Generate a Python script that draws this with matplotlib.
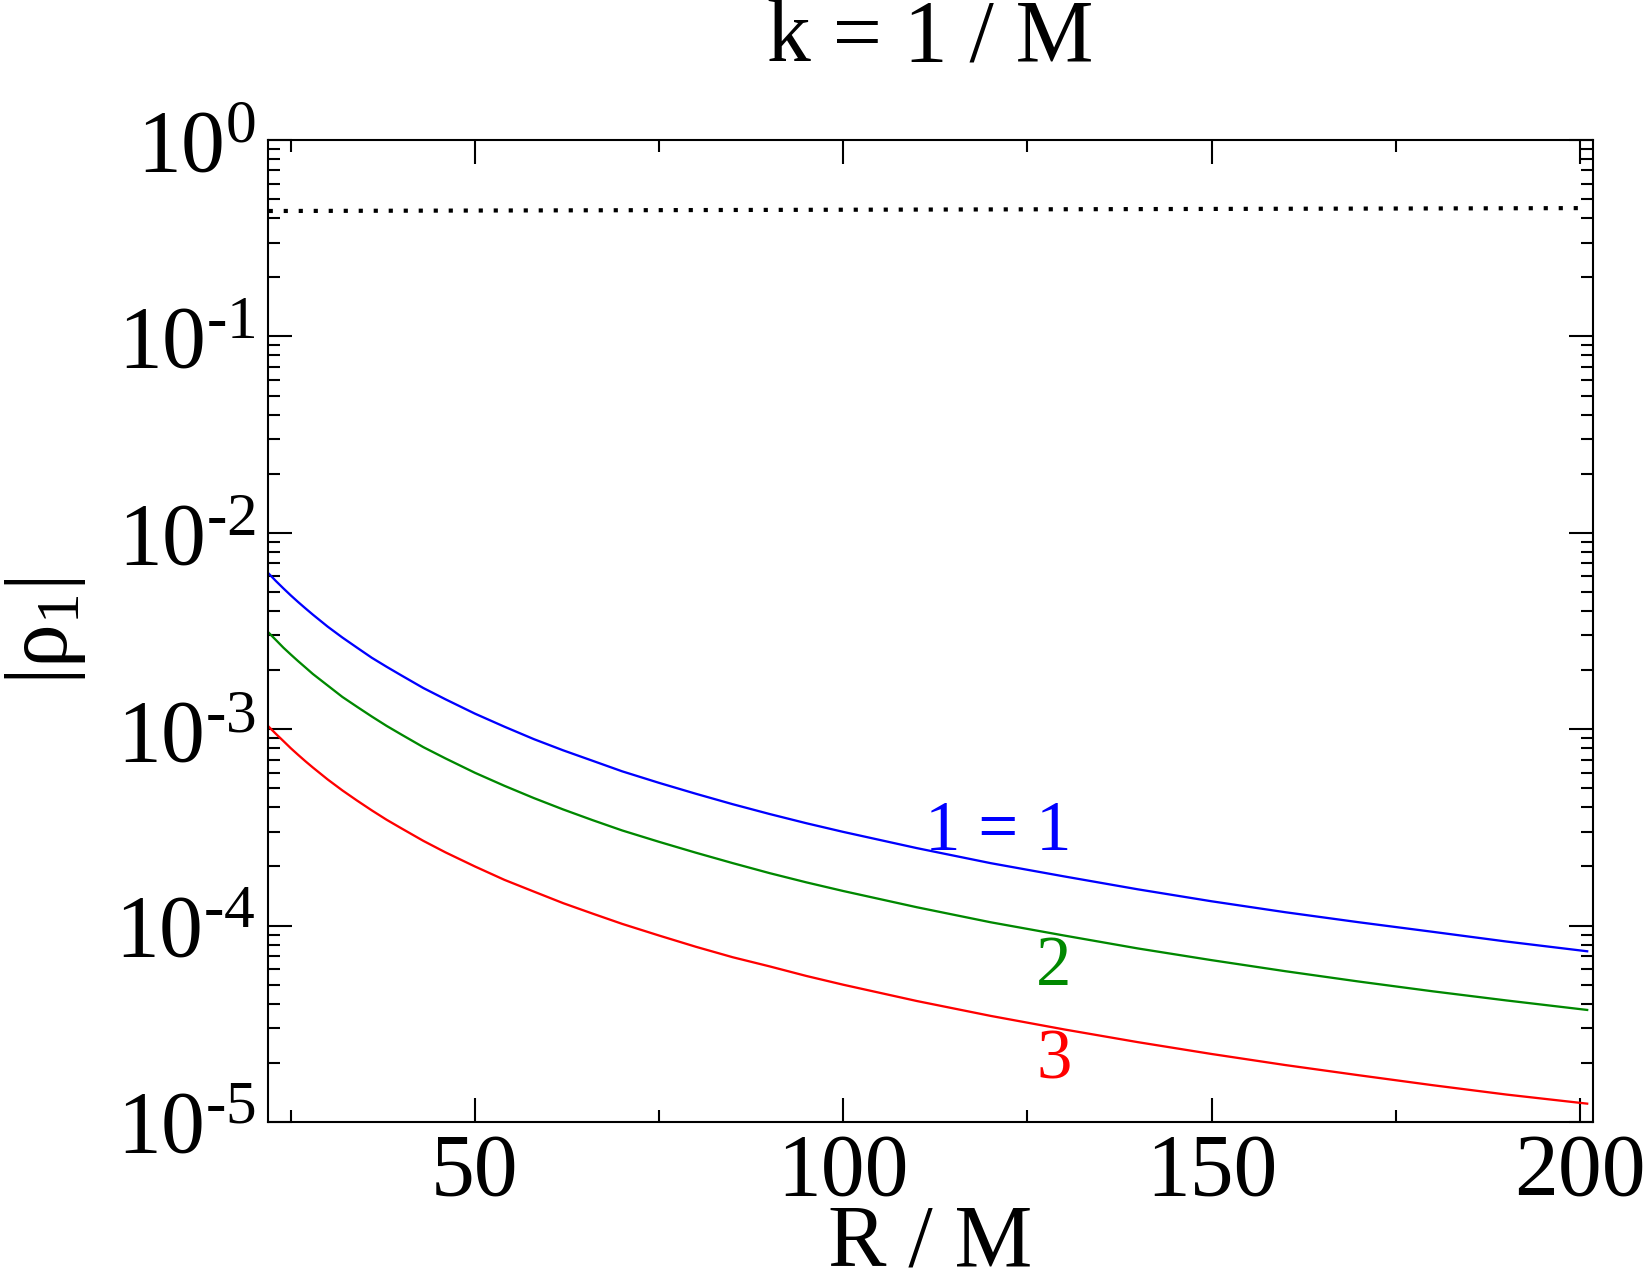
import math
import matplotlib
matplotlib.use("Agg")
import matplotlib.pyplot as plt
from matplotlib.ticker import FixedLocator, FuncFormatter, LogLocator, NullFormatter

plt.rcParams['font.family'] = ['Liberation Serif', 'DejaVu Serif']
plt.rcParams['mathtext.fontset'] = 'custom'
plt.rcParams['mathtext.rm'] = 'Liberation Serif'
plt.rcParams['mathtext.it'] = 'Liberation Serif:italic'
plt.rcParams['mathtext.bf'] = 'Liberation Serif:bold'

# ---- data ----
R = [22, 23, 24, 25, 26, 27, 28, 30, 32, 34, 36, 38, 40, 43, 46, 50, 54, 58,
     62, 66, 70, 75, 80, 85, 90, 95, 100, 110, 120, 130, 140, 150, 160, 170,
     180, 190, 201]
rho_l1 = [6.2e-3, 5.67e-3, 5.21e-3, 4.8e-3, 4.44e-3, 4.12e-3, 3.83e-3, 3.33e-3,
          2.93e-3, 2.6e-3, 2.31e-3, 2.08e-3, 1.88e-3, 1.62e-3, 1.42e-3, 1.2e-3,
          1.03e-3, 8.9e-4, 7.8e-4, 6.9e-4, 6.1e-4, 5.33e-4, 4.69e-4, 4.15e-4,
          3.7e-4, 3.32e-4, 3.0e-4, 2.48e-4, 2.08e-4, 1.78e-4, 1.53e-4, 1.33e-4,
          1.17e-4, 1.04e-4, 9.3e-5, 8.3e-5, 7.4e-5]
rho_l2 = [3.1e-3, 2.84e-3, 2.6e-3, 2.4e-3, 2.22e-3, 2.06e-3, 1.91e-3, 1.67e-3,
          1.46e-3, 1.3e-3, 1.16e-3, 1.04e-3, 9.4e-4, 8.1e-4, 7.1e-4, 6.0e-4,
          5.15e-4, 4.46e-4, 3.9e-4, 3.44e-4, 3.05e-4, 2.67e-4, 2.35e-4, 2.08e-4,
          1.85e-4, 1.66e-4, 1.5e-4, 1.24e-4, 1.04e-4, 8.9e-5, 7.65e-5, 6.67e-5,
          5.86e-5, 5.19e-5, 4.63e-5, 4.16e-5, 3.72e-5]
rho_l3 = [1.03e-3, 9.45e-4, 8.7e-4, 8.0e-4, 7.4e-4, 6.86e-4, 6.38e-4, 5.55e-4,
          4.88e-4, 4.33e-4, 3.86e-4, 3.46e-4, 3.13e-4, 2.7e-4, 2.36e-4, 2.0e-4,
          1.71e-4, 1.49e-4, 1.3e-4, 1.15e-4, 1.02e-4, 8.9e-5, 7.8e-5, 6.9e-5,
          6.2e-5, 5.54e-5, 5.0e-5, 4.13e-5, 3.47e-5, 2.96e-5, 2.55e-5, 2.22e-5,
          1.95e-5, 1.73e-5, 1.54e-5, 1.38e-5, 1.24e-5]
R_dot = [22, 201]
rho_dot = [0.435, 0.45]

series_colors = ['#0000ff', '#008800', '#ff0000']
series_labels = ['1 = 1', '2', '3']
label_x = [121, 128.5, 128.6]
label_y = [2.43e-4, 4.99e-5, 1.67e-5]

x_major = [50, 100, 150, 200]
x_minor = [25, 75, 125, 175]
y_major_exp = [-5, -4, -3, -2, -1, 0]

# ---- figure ----
fig = plt.figure(figsize=(11, 8.5), dpi=150)
ax = fig.add_axes([0.1624, 0.12, 0.9655 - 0.1624, 0.8902 - 0.12])

for y, c in zip([rho_l1, rho_l2, rho_l3], series_colors):
    ax.plot(R, y, color=c, lw=1.1)
ax.plot(R_dot, rho_dot, color='black', lw=2, linestyle=(0, (1, 2.6)))

for t, c, xx, yy in zip(series_labels, series_colors, label_x, label_y):
    ax.text(xx, yy, t, color=c, fontsize=34, ha='center', va='baseline')

ax.set_yscale('log')
ax.set_xlim(21.9, 201.8)
ax.set_ylim(1e-5, 1)

ax.xaxis.set_major_locator(FixedLocator(x_major))
ax.xaxis.set_minor_locator(FixedLocator(x_minor))
ax.yaxis.set_major_locator(FixedLocator([10.0 ** e for e in y_major_exp]))
ax.yaxis.set_minor_locator(LogLocator(base=10, subs=range(2, 10), numticks=20))
ax.yaxis.set_minor_formatter(NullFormatter())


def yfmt(v, pos):
    e = int(round(math.log10(v)))
    if e < 0:
        return r'$\mathregular{10^{\text{-}%d}}$' % (-e)
    return r'$\mathregular{10^{%d}}$' % e


ax.yaxis.set_major_formatter(FuncFormatter(yfmt))

ax.tick_params(which='both', direction='in', top=True, right=True, width=1.0)
ax.tick_params(which='major', length=11.5, labelsize=42)
ax.tick_params(which='minor', length=5.8)
ax.tick_params(axis='x', which='major', pad=5)
ax.tick_params(axis='y', which='major', pad=6)
for s in ax.spines.values():
    s.set_linewidth(1.0)

ax.set_title('k = 1 / M', fontsize=42, pad=38)
ax.set_xlabel('R / M', fontsize=42, va='baseline')
ax.xaxis.set_label_coords(0.5, -0.1466)
ax.set_ylabel('|ρ$_1$|', fontsize=42, va='baseline')
ax.yaxis.set_label_coords(-0.152, 0.5)

fig.savefig('out.png', dpi=150)
